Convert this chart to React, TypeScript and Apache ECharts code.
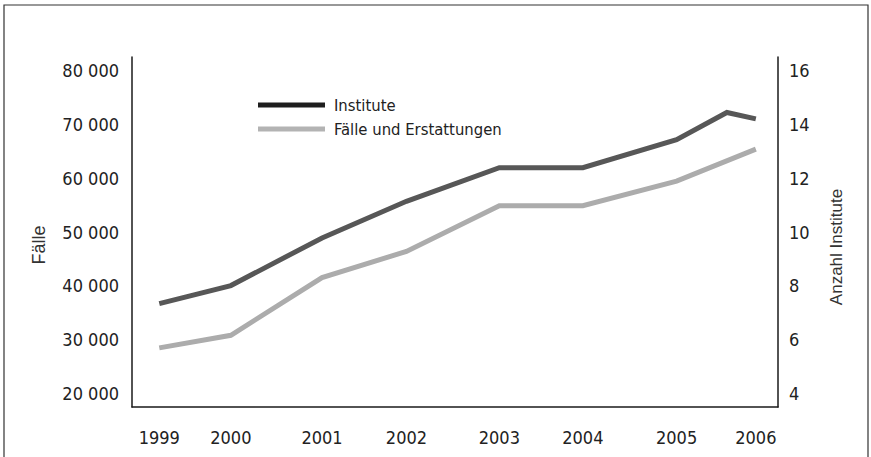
import React, { useEffect, useRef } from "react";
import * as echarts from "echarts";

// Year label positions on the time axis (uneven spacing as in the source)
const yearLabels = ["1999", "2000", "2001", "2002", "2003", "2004", "2005", "2006"];
const yearPos = [1999, 1999.84, 2000.91, 2001.9, 2002.99, 2003.97, 2005.07, 2006];

// Institute (right axis): includes an extra vertex between 2005 and 2006
const instituteX = [1999, 1999.84, 2000.91, 2001.9, 2002.99, 2003.97, 2005.07, 2005.66, 2006];
const instituteValues = [7.34, 8.01, 9.78, 11.14, 12.39, 12.39, 13.43, 14.44, 14.2];

// Fälle und Erstattungen (left axis)
const faelleX = [1999, 1999.84, 2000.91, 2001.9, 2002.99, 2003.97, 2005.07, 2006];
const faelleValues = [28480, 30820, 41520, 46400, 54880, 54880, 59460, 65400];

const leftTicks = [20000, 30000, 40000, 50000, 60000, 70000, 80000];
const rightTicks = [4, 6, 8, 10, 12, 14, 16];

const NARROW = "'DejaVu Sans Condensed', 'Liberation Sans Narrow', sans-serif";
const SANS = "'Liberation Sans', Arial, sans-serif";

export default function App() {
  const ref = useRef<HTMLDivElement>(null);
  useEffect(() => {
    if (!ref.current) return;
    const chart = echarts.init(ref.current, null, { renderer: "svg" });
    const fmtThousands = (v: number) => {
      const s = String(Math.round(v));
      return s.replace(/\B(?=(\d{3})+(?!\d))/g, " ");
    };
    const nearestYear = (v: number) => {
      let best = 0;
      for (let i = 1; i < yearPos.length; i++) {
        if (Math.abs(yearPos[i] - v) < Math.abs(yearPos[best] - v)) best = i;
      }
      return yearLabels[best];
    };
    chart.setOption({
      animation: false,
      backgroundColor: "#ffffff",
      grid: { left: 132, right: 93, top: 57, bottom: 50, containLabel: false },
      legend: {
        orient: "vertical",
        left: 253,
        top: 90,
        itemWidth: 67,
        itemHeight: 5,
        itemGap: 4,
        icon: "rect",
        textStyle: {
          fontFamily: NARROW,
          fontSize: 16.5,
          lineHeight: 20,
          color: "#222",
          padding: [0, 0, 0, 4],
        },
        data: [
          { name: "Institute", itemStyle: { color: "#1e1e1e" } },
          { name: "Fälle und Erstattungen", itemStyle: { color: "#b3b3b3" } },
        ],
      },
      xAxis: {
        type: "value",
        min: 1998.68,
        max: 2006.26,
        axisLine: { show: true, lineStyle: { color: "#1a1a1a", width: 1.5 } },
        axisTick: { show: false },
        splitLine: { show: false },
        axisLabel: {
          customValues: yearPos,
          formatter: (v: number) => nearestYear(v),
          fontFamily: NARROW,
          fontSize: 18,
          color: "#222",
          margin: 21,
        },
      },
      yAxis: [
        {
          type: "value",
          position: "left",
          min: 17500,
          max: 82500,
          axisLine: { show: true, lineStyle: { color: "#1a1a1a", width: 1.5 } },
          axisTick: { show: false },
          splitLine: { show: false },
          axisLabel: {
            customValues: leftTicks,
            formatter: (v: number) => fmtThousands(v),
            fontFamily: NARROW,
            fontSize: 18,
            color: "#222",
            margin: 13,
          },
        },
        {
          type: "value",
          position: "right",
          min: 3.5,
          max: 16.5,
          axisLine: { show: true, lineStyle: { color: "#1a1a1a", width: 1.5 } },
          axisTick: { show: false },
          splitLine: { show: false },
          axisLabel: {
            customValues: rightTicks,
            formatter: (v: number) => String(v),
            fontFamily: NARROW,
            fontSize: 18,
            color: "#222",
            margin: 11,
          },
        },
      ],
      series: [
        {
          name: "Institute",
          type: "line",
          yAxisIndex: 1,
          data: instituteX.map((x, i) => [x, instituteValues[i]]),
          showSymbol: false,
          lineStyle: { color: "#575757", width: 5, cap: "butt", join: "miter" },
          itemStyle: { color: "#575757" },
          z: 3,
        },
        {
          name: "Fälle und Erstattungen",
          type: "line",
          yAxisIndex: 0,
          data: faelleX.map((x, i) => [x, faelleValues[i]]),
          showSymbol: false,
          lineStyle: { color: "#acacac", width: 5, cap: "butt", join: "miter" },
          itemStyle: { color: "#acacac" },
          z: 2,
        },
      ],
      graphic: [
        {
          type: "rect",
          shape: { x: 4, y: 5, width: 864, height: 460 },
          style: { fill: "none", stroke: "#333", lineWidth: 1.2 },
          silent: true,
        },
        {
          type: "text",
          x: 39,
          y: 245,
          rotation: Math.PI / 2,
          style: {
            text: "Fälle",
            fontFamily: SANS,
            fontSize: 18,
            fill: "#333",
            align: "center",
            verticalAlign: "middle",
          },
        },
        {
          type: "text",
          x: 836,
          y: 247,
          rotation: Math.PI / 2,
          style: {
            text: "Anzahl Institute",
            fontFamily: SANS,
            fontSize: 17,
            fill: "#333",
            align: "center",
            verticalAlign: "middle",
          },
        },
      ],
    });
    return () => chart.dispose();
  }, []);
  return (
    <div
      ref={ref}
      style={{ position: "fixed", left: 0, top: 0, width: 871, height: 457 }}
    />
  );
}
